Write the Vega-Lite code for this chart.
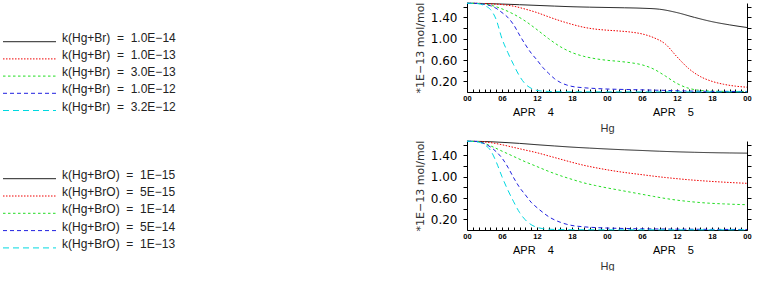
{
  "$schema": "https://vega.github.io/schema/vega-lite/v6.json",
  "padding": {"left": 2, "top": 0, "right": 0, "bottom": 0},
  "bounds": "flush",
  "columns": 2,
  "spacing": {"row": 49, "column": 264},
  "datasets": {
    "br": [
      {"run":1,"hour":0,"mix":1.665},{"run":1,"hour":3,"mix":1.66},{"run":1,"hour":6,"mix":1.65},{"run":1,"hour":9,"mix":1.638},{"run":1,"hour":12,"mix":1.625},{"run":1,"hour":15,"mix":1.612},{"run":1,"hour":18,"mix":1.6},{"run":1,"hour":21,"mix":1.592},{"run":1,"hour":24,"mix":1.586},{"run":1,"hour":27,"mix":1.58},{"run":1,"hour":30,"mix":1.572},{"run":1,"hour":33,"mix":1.553},{"run":1,"hour":36,"mix":1.49},{"run":1,"hour":39,"mix":1.4},{"run":1,"hour":42,"mix":1.32},{"run":1,"hour":45,"mix":1.26},{"run":1,"hour":48,"mix":1.21},
      {"run":2,"hour":0,"mix":1.665},{"run":2,"hour":2,"mix":1.663},{"run":2,"hour":4,"mix":1.655},{"run":2,"hour":6,"mix":1.64},{"run":2,"hour":8,"mix":1.61},{"run":2,"hour":10,"mix":1.555},{"run":2,"hour":12,"mix":1.49},{"run":2,"hour":14,"mix":1.41},{"run":2,"hour":16,"mix":1.335},{"run":2,"hour":18,"mix":1.27},{"run":2,"hour":20,"mix":1.215},{"run":2,"hour":22,"mix":1.18},{"run":2,"hour":24,"mix":1.16},{"run":2,"hour":26,"mix":1.145},{"run":2,"hour":28,"mix":1.125},{"run":2,"hour":30,"mix":1.09},{"run":2,"hour":32,"mix":1.02},{"run":2,"hour":34,"mix":0.9},{"run":2,"hour":36,"mix":0.66},{"run":2,"hour":38,"mix":0.44},{"run":2,"hour":40,"mix":0.29},{"run":2,"hour":42,"mix":0.2},{"run":2,"hour":44,"mix":0.145},{"run":2,"hour":46,"mix":0.11},{"run":2,"hour":48,"mix":0.09},
      {"run":3,"hour":0,"mix":1.665},{"run":3,"hour":2,"mix":1.66},{"run":3,"hour":4,"mix":1.63},{"run":3,"hour":6,"mix":1.56},{"run":3,"hour":8,"mix":1.46},{"run":3,"hour":10,"mix":1.33},{"run":3,"hour":12,"mix":1.17},{"run":3,"hour":14,"mix":1.0},{"run":3,"hour":16,"mix":0.85},{"run":3,"hour":18,"mix":0.74},{"run":3,"hour":20,"mix":0.67},{"run":3,"hour":22,"mix":0.625},{"run":3,"hour":24,"mix":0.595},{"run":3,"hour":26,"mix":0.575},{"run":3,"hour":28,"mix":0.55},{"run":3,"hour":30,"mix":0.51},{"run":3,"hour":32,"mix":0.43},{"run":3,"hour":34,"mix":0.3},{"run":3,"hour":36,"mix":0.16},{"run":3,"hour":38,"mix":0.07},{"run":3,"hour":40,"mix":0.03},{"run":3,"hour":42,"mix":0.016},{"run":3,"hour":44,"mix":0.012},{"run":3,"hour":46,"mix":0.01},{"run":3,"hour":48,"mix":0.01},
      {"run":4,"hour":0,"mix":1.665},{"run":4,"hour":1,"mix":1.665},{"run":4,"hour":2,"mix":1.66},{"run":4,"hour":3,"mix":1.645},{"run":4,"hour":4,"mix":1.62},{"run":4,"hour":5,"mix":1.57},{"run":4,"hour":6,"mix":1.49},{"run":4,"hour":7,"mix":1.4},{"run":4,"hour":8,"mix":1.26},{"run":4,"hour":9,"mix":1.07},{"run":4,"hour":10,"mix":0.89},{"run":4,"hour":11,"mix":0.73},{"run":4,"hour":12,"mix":0.6},{"run":4,"hour":13,"mix":0.46},{"run":4,"hour":14,"mix":0.35},{"run":4,"hour":15,"mix":0.25},{"run":4,"hour":16,"mix":0.18},{"run":4,"hour":17,"mix":0.135},{"run":4,"hour":18,"mix":0.105},{"run":4,"hour":20,"mix":0.08},{"run":4,"hour":22,"mix":0.066},{"run":4,"hour":24,"mix":0.056},{"run":4,"hour":26,"mix":0.05},{"run":4,"hour":28,"mix":0.045},{"run":4,"hour":30,"mix":0.04},{"run":4,"hour":32,"mix":0.035},{"run":4,"hour":34,"mix":0.03},{"run":4,"hour":36,"mix":0.024},{"run":4,"hour":38,"mix":0.018},{"run":4,"hour":40,"mix":0.014},{"run":4,"hour":44,"mix":0.011},{"run":4,"hour":48,"mix":0.01},
      {"run":5,"hour":0,"mix":1.665},{"run":5,"hour":1,"mix":1.665},{"run":5,"hour":2,"mix":1.655},{"run":5,"hour":3,"mix":1.62},{"run":5,"hour":4,"mix":1.55},{"run":5,"hour":5,"mix":1.36},{"run":5,"hour":6,"mix":1.0},{"run":5,"hour":7,"mix":0.74},{"run":5,"hour":8,"mix":0.51},{"run":5,"hour":9,"mix":0.3},{"run":5,"hour":10,"mix":0.15},{"run":5,"hour":11,"mix":0.07},{"run":5,"hour":12,"mix":0.03},{"run":5,"hour":13,"mix":0.016},{"run":5,"hour":14,"mix":0.01},{"run":5,"hour":16,"mix":0.006},{"run":5,"hour":20,"mix":0.004},{"run":5,"hour":24,"mix":0.003},{"run":5,"hour":36,"mix":0.003},{"run":5,"hour":48,"mix":0.003}
    ],
    "bro": [
      {"run":1,"hour":0,"mix":1.665},{"run":1,"hour":3,"mix":1.66},{"run":1,"hour":6,"mix":1.645},{"run":1,"hour":9,"mix":1.625},{"run":1,"hour":12,"mix":1.6},{"run":1,"hour":15,"mix":1.577},{"run":1,"hour":18,"mix":1.555},{"run":1,"hour":21,"mix":1.537},{"run":1,"hour":24,"mix":1.52},{"run":1,"hour":27,"mix":1.505},{"run":1,"hour":30,"mix":1.492},{"run":1,"hour":33,"mix":1.478},{"run":1,"hour":36,"mix":1.467},{"run":1,"hour":39,"mix":1.458},{"run":1,"hour":42,"mix":1.451},{"run":1,"hour":45,"mix":1.446},{"run":1,"hour":48,"mix":1.442},
      {"run":2,"hour":0,"mix":1.665},{"run":2,"hour":2,"mix":1.66},{"run":2,"hour":4,"mix":1.64},{"run":2,"hour":6,"mix":1.6},{"run":2,"hour":8,"mix":1.55},{"run":2,"hour":10,"mix":1.5},{"run":2,"hour":12,"mix":1.45},{"run":2,"hour":14,"mix":1.39},{"run":2,"hour":16,"mix":1.33},{"run":2,"hour":18,"mix":1.27},{"run":2,"hour":20,"mix":1.215},{"run":2,"hour":22,"mix":1.17},{"run":2,"hour":24,"mix":1.13},{"run":2,"hour":26,"mix":1.095},{"run":2,"hour":28,"mix":1.065},{"run":2,"hour":30,"mix":1.038},{"run":2,"hour":32,"mix":1.01},{"run":2,"hour":34,"mix":0.985},{"run":2,"hour":36,"mix":0.963},{"run":2,"hour":38,"mix":0.943},{"run":2,"hour":40,"mix":0.926},{"run":2,"hour":42,"mix":0.911},{"run":2,"hour":44,"mix":0.898},{"run":2,"hour":46,"mix":0.886},{"run":2,"hour":48,"mix":0.876},
      {"run":3,"hour":0,"mix":1.665},{"run":3,"hour":2,"mix":1.655},{"run":3,"hour":4,"mix":1.58},{"run":3,"hour":6,"mix":1.48},{"run":3,"hour":8,"mix":1.38},{"run":3,"hour":10,"mix":1.28},{"run":3,"hour":12,"mix":1.19},{"run":3,"hour":14,"mix":1.1},{"run":3,"hour":16,"mix":1.02},{"run":3,"hour":18,"mix":0.95},{"run":3,"hour":20,"mix":0.885},{"run":3,"hour":22,"mix":0.835},{"run":3,"hour":24,"mix":0.79},{"run":3,"hour":26,"mix":0.75},{"run":3,"hour":28,"mix":0.71},{"run":3,"hour":30,"mix":0.67},{"run":3,"hour":32,"mix":0.63},{"run":3,"hour":34,"mix":0.592},{"run":3,"hour":36,"mix":0.56},{"run":3,"hour":38,"mix":0.535},{"run":3,"hour":40,"mix":0.515},{"run":3,"hour":42,"mix":0.5},{"run":3,"hour":44,"mix":0.49},{"run":3,"hour":46,"mix":0.481},{"run":3,"hour":48,"mix":0.475},
      {"run":4,"hour":0,"mix":1.665},{"run":4,"hour":1,"mix":1.665},{"run":4,"hour":2,"mix":1.655},{"run":4,"hour":3,"mix":1.62},{"run":4,"hour":4,"mix":1.56},{"run":4,"hour":5,"mix":1.47},{"run":4,"hour":6,"mix":1.35},{"run":4,"hour":7,"mix":1.18},{"run":4,"hour":8,"mix":0.98},{"run":4,"hour":9,"mix":0.8},{"run":4,"hour":10,"mix":0.66},{"run":4,"hour":11,"mix":0.52},{"run":4,"hour":12,"mix":0.42},{"run":4,"hour":13,"mix":0.33},{"run":4,"hour":14,"mix":0.25},{"run":4,"hour":15,"mix":0.19},{"run":4,"hour":16,"mix":0.145},{"run":4,"hour":17,"mix":0.11},{"run":4,"hour":18,"mix":0.085},{"run":4,"hour":20,"mix":0.06},{"run":4,"hour":22,"mix":0.046},{"run":4,"hour":24,"mix":0.037},{"run":4,"hour":26,"mix":0.031},{"run":4,"hour":28,"mix":0.026},{"run":4,"hour":30,"mix":0.022},{"run":4,"hour":34,"mix":0.018},{"run":4,"hour":38,"mix":0.015},{"run":4,"hour":42,"mix":0.012},{"run":4,"hour":48,"mix":0.01},
      {"run":5,"hour":0,"mix":1.665},{"run":5,"hour":1,"mix":1.665},{"run":5,"hour":2,"mix":1.65},{"run":5,"hour":3,"mix":1.6},{"run":5,"hour":4,"mix":1.5},{"run":5,"hour":5,"mix":1.28},{"run":5,"hour":6,"mix":1.0},{"run":5,"hour":7,"mix":0.75},{"run":5,"hour":8,"mix":0.53},{"run":5,"hour":9,"mix":0.33},{"run":5,"hour":10,"mix":0.19},{"run":5,"hour":11,"mix":0.1},{"run":5,"hour":12,"mix":0.05},{"run":5,"hour":13,"mix":0.025},{"run":5,"hour":14,"mix":0.015},{"run":5,"hour":16,"mix":0.008},{"run":5,"hour":20,"mix":0.005},{"run":5,"hour":24,"mix":0.004},{"run":5,"hour":36,"mix":0.003},{"run":5,"hour":48,"mix":0.003}
    ],
    "brKeys": [
      {"run":1,"label":"k(Hg+Br)\u00a0\u00a0=\u00a0\u00a01.0E\u221214"},
      {"run":2,"label":"k(Hg+Br)\u00a0\u00a0=\u00a0\u00a01.0E\u221213"},
      {"run":3,"label":"k(Hg+Br)\u00a0\u00a0=\u00a0\u00a03.0E\u221213"},
      {"run":4,"label":"k(Hg+Br)\u00a0\u00a0=\u00a0\u00a01.0E\u221212"},
      {"run":5,"label":"k(Hg+Br)\u00a0\u00a0=\u00a0\u00a03.2E\u221212"}
    ],
    "broKeys": [
      {"run":1,"label":"k(Hg+BrO)\u00a0\u00a0=\u00a0\u00a01E\u221215"},
      {"run":2,"label":"k(Hg+BrO)\u00a0\u00a0=\u00a0\u00a05E\u221215"},
      {"run":3,"label":"k(Hg+BrO)\u00a0\u00a0=\u00a0\u00a01E\u221214"},
      {"run":4,"label":"k(Hg+BrO)\u00a0\u00a0=\u00a0\u00a05E\u221214"},
      {"run":5,"label":"k(Hg+BrO)\u00a0\u00a0=\u00a0\u00a01E\u221213"}
    ]
  },
  "concat": [
    {
      "width": 200, "height": 89,
      "data": {"name": "brKeys"},
      "encoding": {
        "y": {"field": "run", "type": "quantitative", "scale": {"domain": [-1.25, 3.924], "reverse": true, "nice": false, "zero": false}, "axis": null}
      },
      "layer": [
        {
          "mark": {"type": "rule", "strokeWidth": 1},
          "encoding": {
            "x": {"datum": 0, "type": "quantitative", "scale": {"domain": [0, 1], "nice": false}, "axis": null},
            "x2": {"datum": 0.265},
            "color": {"field": "run", "type": "nominal", "scale": {"domain": [1,2,3,4,5], "range": ["#222222","#f00000","#22dd22","#2020e0","#00d8e0"]}, "legend": null},
            "strokeDash": {"field": "run", "type": "nominal", "scale": {"domain": [1,2,3,4,5], "range": [[1,0],[1.5,1.5],[2.5,2.5],[4,3],[6,4]]}, "legend": null}
          }
        },
        {
          "mark": {"type": "text", "align": "left", "baseline": "alphabetic", "font": "Liberation Sans", "fontSize": 12, "color": "#222222"},
          "encoding": {
            "x": {"datum": 0.295, "type": "quantitative"},
            "text": {"field": "label"}
          }
        }
      ]
    },
    {
      "width": 280, "height": 89,
      "data": {"name": "br"},
      "layer": [
        {
          "mark": {"type": "line", "interpolate": "monotone", "strokeWidth": 1},
          "encoding": {
            "x": {"field": "hour", "type": "quantitative", "scale": {"domain": [0, 48], "nice": false},
              "axis": {"orient": "bottom", "values": [0,1,2,3,4,5,6,7,8,9,10,11,12,13,14,15,16,17,18,19,20,21,22,23,24,25,26,27,28,29,30,31,32,33,34,35,36,37,38,39,40,41,42,43,44,45,46,47,48],
                "labelExpr": "datum.value % 6 === 0 ? ((datum.value % 24) < 10 ? '0' : '') + (datum.value % 24) : ''",
                "tickSize": -3, "labelPadding": 5, "labelFont": "Liberation Sans", "labelFontSize": 7.5, "labelFontWeight": "bold",
                "labelColor": "#000000", "labelOverlap": false, "labelFlush": false, "title": null, "grid": false,
                "domainColor": "#000000", "tickColor": "#000000"}},
            "y": {"field": "mix", "type": "quantitative", "scale": {"domain": [0, 1.67], "nice": false, "zero": true},
              "axis": {"orient": "left", "values": [0.2,0.4,0.6,0.8,1,1.2,1.4,1.6],
                "labelExpr": "abs((datum.value * 10) % 4 - 2) < 0.01 ? format(datum.value, '.2f') : ''",
                "tickSize": 4, "labelPadding": 6, "labelFont": "DejaVu Sans", "labelFontSize": 12, "labelColor": "#000000",
                "labelOverlap": false, "labelFlush": false, "grid": false, "domainColor": "#000000", "tickColor": "#000000",
                "title": "*1E\u221213 mol/mol", "titleFont": "DejaVu Sans", "titleFontSize": 11, "titleFontWeight": "normal",
                "titleColor": "#333333", "titlePadding": 5}},
            "color": {"field": "run", "type": "nominal", "scale": {"domain": [1,2,3,4,5], "range": ["#222222","#f00000","#22dd22","#2020e0","#00d8e0"]}, "legend": null},
            "strokeDash": {"field": "run", "type": "nominal", "scale": {"domain": [1,2,3,4,5], "range": [[1,0],[1.5,1.5],[2.5,2.5],[4,3],[6,4]]}, "legend": null}
          }
        },
        {
          "mark": {"type": "line", "opacity": 0},
          "encoding": {
            "x": {"field": "hour", "type": "quantitative",
              "axis": {"orient": "bottom", "values": [12, 36], "labelExpr": "datum.value < 24 ? 'APR\u00a0\u00a0\u00a0 4' : 'APR\u00a0\u00a0\u00a0 5'",
                "ticks": false, "tickSize": 0, "domain": false, "labelPadding": 14, "labelOffset": -4,
                "labelFont": "Liberation Sans", "labelFontSize": 11, "labelColor": "#000000", "labelFlush": false, "labelOverlap": false,
                "grid": false, "title": "Hg", "titleFont": "Liberation Sans", "titleFontSize": 11, "titleFontWeight": "normal",
                "titleColor": "#333333", "titlePadding": 5}},
            "y": {"field": "mix", "type": "quantitative",
              "axis": {"orient": "right", "values": [0.2,0.4,0.6,0.8,1,1.2,1.4,1.6], "labels": false, "tickSize": 4,
                "title": null, "grid": false, "domainColor": "#000000", "tickColor": "#000000"}},
            "detail": {"field": "run"}
          }
        }
      ],
      "resolve": {"axis": {"x": "independent", "y": "independent"}}
    },
    {
      "width": 200, "height": 89,
      "data": {"name": "broKeys"},
      "encoding": {
        "y": {"field": "run", "type": "quantitative", "scale": {"domain": [-1.179, 3.965], "reverse": true, "nice": false, "zero": false}, "axis": null}
      },
      "layer": [
        {
          "mark": {"type": "rule", "strokeWidth": 1},
          "encoding": {
            "x": {"datum": 0, "type": "quantitative", "scale": {"domain": [0, 1], "nice": false}, "axis": null},
            "x2": {"datum": 0.265},
            "color": {"field": "run", "type": "nominal", "scale": {"domain": [1,2,3,4,5], "range": ["#222222","#f00000","#22dd22","#2020e0","#00d8e0"]}, "legend": null},
            "strokeDash": {"field": "run", "type": "nominal", "scale": {"domain": [1,2,3,4,5], "range": [[1,0],[1.5,1.5],[2.5,2.5],[4,3],[6,4]]}, "legend": null}
          }
        },
        {
          "mark": {"type": "text", "align": "left", "baseline": "alphabetic", "font": "Liberation Sans", "fontSize": 12, "color": "#222222"},
          "encoding": {
            "x": {"datum": 0.295, "type": "quantitative"},
            "text": {"field": "label"}
          }
        }
      ]
    },
    {
      "width": 280, "height": 89,
      "data": {"name": "bro"},
      "layer": [
        {
          "mark": {"type": "line", "interpolate": "monotone", "strokeWidth": 1},
          "encoding": {
            "x": {"field": "hour", "type": "quantitative", "scale": {"domain": [0, 48], "nice": false},
              "axis": {"orient": "bottom", "values": [0,1,2,3,4,5,6,7,8,9,10,11,12,13,14,15,16,17,18,19,20,21,22,23,24,25,26,27,28,29,30,31,32,33,34,35,36,37,38,39,40,41,42,43,44,45,46,47,48],
                "labelExpr": "datum.value % 6 === 0 ? ((datum.value % 24) < 10 ? '0' : '') + (datum.value % 24) : ''",
                "tickSize": -3, "labelPadding": 5, "labelFont": "Liberation Sans", "labelFontSize": 7.5, "labelFontWeight": "bold",
                "labelColor": "#000000", "labelOverlap": false, "labelFlush": false, "title": null, "grid": false,
                "domainColor": "#000000", "tickColor": "#000000"}},
            "y": {"field": "mix", "type": "quantitative", "scale": {"domain": [0, 1.67], "nice": false, "zero": true},
              "axis": {"orient": "left", "values": [0.2,0.4,0.6,0.8,1,1.2,1.4,1.6],
                "labelExpr": "abs((datum.value * 10) % 4 - 2) < 0.01 ? format(datum.value, '.2f') : ''",
                "tickSize": 4, "labelPadding": 6, "labelFont": "DejaVu Sans", "labelFontSize": 12, "labelColor": "#000000",
                "labelOverlap": false, "labelFlush": false, "grid": false, "domainColor": "#000000", "tickColor": "#000000",
                "title": "*1E\u221213 mol/mol", "titleFont": "DejaVu Sans", "titleFontSize": 11, "titleFontWeight": "normal",
                "titleColor": "#333333", "titlePadding": 5}},
            "color": {"field": "run", "type": "nominal", "scale": {"domain": [1,2,3,4,5], "range": ["#222222","#f00000","#22dd22","#2020e0","#00d8e0"]}, "legend": null},
            "strokeDash": {"field": "run", "type": "nominal", "scale": {"domain": [1,2,3,4,5], "range": [[1,0],[1.5,1.5],[2.5,2.5],[4,3],[6,4]]}, "legend": null}
          }
        },
        {
          "mark": {"type": "line", "opacity": 0},
          "encoding": {
            "x": {"field": "hour", "type": "quantitative",
              "axis": {"orient": "bottom", "values": [12, 36], "labelExpr": "datum.value < 24 ? 'APR\u00a0\u00a0\u00a0 4' : 'APR\u00a0\u00a0\u00a0 5'",
                "ticks": false, "tickSize": 0, "domain": false, "labelPadding": 14, "labelOffset": -4,
                "labelFont": "Liberation Sans", "labelFontSize": 11, "labelColor": "#000000", "labelFlush": false, "labelOverlap": false,
                "grid": false, "title": "Hg", "titleFont": "Liberation Sans", "titleFontSize": 11, "titleFontWeight": "normal",
                "titleColor": "#333333", "titlePadding": 5}},
            "y": {"field": "mix", "type": "quantitative",
              "axis": {"orient": "right", "values": [0.2,0.4,0.6,0.8,1,1.2,1.4,1.6], "labels": false, "tickSize": 4,
                "title": null, "grid": false, "domainColor": "#000000", "tickColor": "#000000"}},
            "detail": {"field": "run"}
          }
        }
      ],
      "resolve": {"axis": {"x": "independent", "y": "independent"}}
    }
  ],
  "config": {
    "view": {"stroke": null}
  }
}
